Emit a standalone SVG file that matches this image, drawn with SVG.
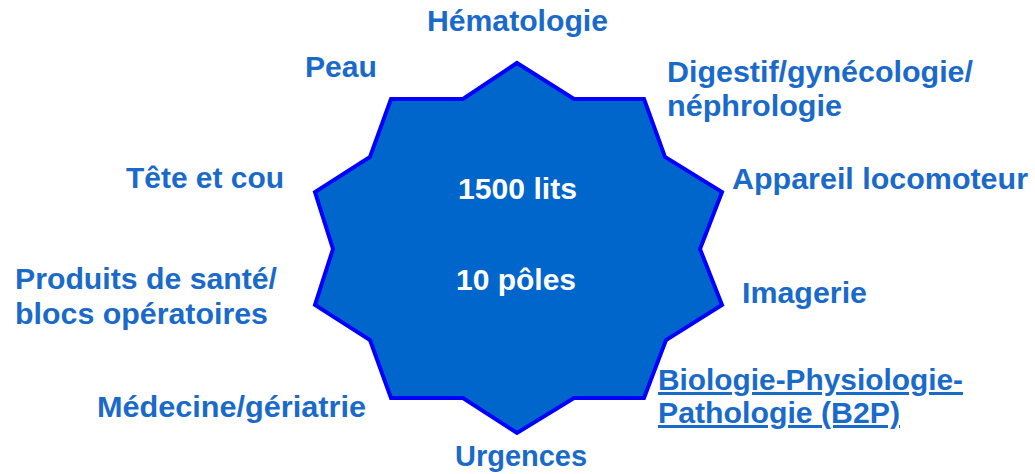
<svg xmlns="http://www.w3.org/2000/svg" width="1035" height="474" viewBox="0 0 1035 474">
  <style>
    .lbl { font-family: "Liberation Sans", Arial, sans-serif; font-weight: bold; font-size: 30px; fill: #1A6ACA; }
    .ctr { font-family: "Liberation Sans", Arial, sans-serif; font-weight: bold; font-size: 29px; fill: #FFFFFF; }
    .star { fill: #0066CC; stroke: #0000FF; stroke-width: 4; stroke-linejoin: miter; }
    .ul { text-decoration: underline; }
  </style>
  <rect width="1035" height="474" fill="#FFFFFF"/>
  <g id="star">
    <polygon class="star" points="517,63 574,99 644,99 665,157 722,192 700,249 722,305 666,340 644,398 574,398 517,433 463,398 391,398 370,340 315,305 333,249 315,192 370,157 391,99 463,99"/>
    <text class="ctr" x="458" y="199" textLength="119" lengthAdjust="spacingAndGlyphs">1500 lits</text>
    <text class="ctr" x="456" y="290" textLength="120" lengthAdjust="spacingAndGlyphs">10 pôles</text>
  </g>
  <g id="connectors"/>
  <g id="hematologie"><text class="lbl" x="427" y="31" textLength="181" lengthAdjust="spacingAndGlyphs">Hématologie</text></g>
  <g id="peau"><text class="lbl" x="305" y="77" textLength="72" lengthAdjust="spacingAndGlyphs">Peau</text></g>
  <g id="digestif">
    <text class="lbl" x="667" y="82" textLength="306" lengthAdjust="spacingAndGlyphs">Digestif/gynécologie/</text>
    <text class="lbl" x="667" y="116" textLength="175" lengthAdjust="spacingAndGlyphs">néphrologie</text>
  </g>
  <g id="appareil"><text class="lbl" x="732" y="189" textLength="296" lengthAdjust="spacingAndGlyphs">Appareil locomoteur</text></g>
  <g id="imagerie"><text class="lbl" x="742" y="303" textLength="125" lengthAdjust="spacingAndGlyphs">Imagerie</text></g>
  <g id="b2p">
    <text class="lbl ul" x="658" y="390" textLength="305" lengthAdjust="spacingAndGlyphs">Biologie-Physiologie-</text>
    <text class="lbl ul" x="658" y="423" textLength="242" lengthAdjust="spacingAndGlyphs">Pathologie (B2P)</text>
  </g>
  <g id="tete"><text class="lbl" x="126" y="188" textLength="158" lengthAdjust="spacingAndGlyphs">Tête et cou</text></g>
  <g id="produits">
    <text class="lbl" x="15" y="289" textLength="262" lengthAdjust="spacingAndGlyphs">Produits de santé/</text>
    <text class="lbl" x="15" y="324" textLength="253" lengthAdjust="spacingAndGlyphs">blocs opératoires</text>
  </g>
  <g id="medecine"><text class="lbl" x="97" y="417" textLength="269" lengthAdjust="spacingAndGlyphs">Médecine/gériatrie</text></g>
  <g id="urgences"><text class="lbl" x="455" y="466" textLength="132" lengthAdjust="spacingAndGlyphs">Urgences</text></g>
</svg>
